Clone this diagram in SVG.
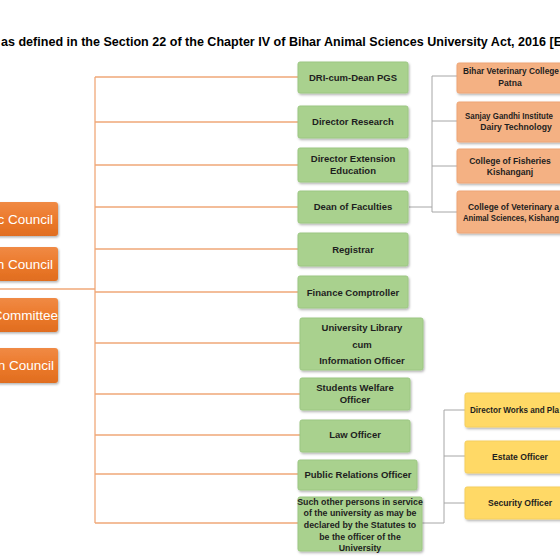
<svg xmlns="http://www.w3.org/2000/svg" width="560" height="560" viewBox="0 0 560 560">
<defs>
<filter id="sh" x="-10%" y="-10%" width="130%" height="140%">
<feDropShadow dx="1" dy="1.5" stdDeviation="1" flood-color="#000" flood-opacity="0.3"/>
</filter>
<linearGradient id="og" x1="0" y1="0" x2="0" y2="1">
<stop offset="0" stop-color="#f08a45"/>
<stop offset="0.5" stop-color="#ec7a2c"/>
<stop offset="1" stop-color="#e06d1f"/>
</linearGradient>
</defs>
<style>
text{font-family:"Liberation Sans",Arial,sans-serif;font-weight:bold;}
.title{font-size:13px;fill:#000;}
.lo{fill:url(#og);filter:url(#sh);}
.lt{font-size:13.5px;fill:#fff;font-weight:normal;text-anchor:end;}
.g{fill:#a9d18e;stroke:#9cc782;stroke-width:1;filter:url(#sh);}
.gt{font-size:9.5px;fill:#1e1e1e;text-anchor:middle;}
.o{fill:#f4b183;stroke:#eea577;stroke-width:1;filter:url(#sh);}
.ot{font-size:8.6px;fill:#1e1e1e;}
.y{fill:#ffd966;stroke:#f5cf5e;stroke-width:1;filter:url(#sh);}
.yt{font-size:8.6px;fill:#1e1e1e;}
.oc{stroke:#f0a878;stroke-width:1.3;fill:none;}
.gc{stroke:#a6a6a6;stroke-width:1;fill:none;}
</style>
<rect width="560" height="560" fill="#fff"/>
<text class="title" x="1" y="46" textLength="561" lengthAdjust="spacingAndGlyphs">as defined in the Section 22 of the Chapter IV of Bihar Animal Sciences University Act, 2016 [E</text>

<g id="connectors">
<path class="oc" d="M0 289 H95"/>
<path class="oc" d="M95 77 V523"/>
<path class="oc" d="M95 77 H298 M95 122 H298 M95 165 H298 M95 207 H298 M95 249 H298 M95 292 H298 M95 343 H300 M95 394 H300 M95 435 H300 M95 474 H298 M95 523 H298"/>
<path class="gc" d="M409 207 H432 M432 76 V212 M432 76 H457 M432 121 H457 M432 166 H457 M432 212 H457"/>
<path class="gc" d="M422 523 H444 M444 410 V523 M444 410 H465 M444 456 H465 M444 503 H465"/>
</g>

<g id="left-1"><rect class="lo" x="-10" y="202" width="68" height="34" rx="3"/><text class="lt" x="53" y="224">ic Council</text></g>
<g id="left-2"><rect class="lo" x="-10" y="247" width="68" height="34" rx="3"/><text class="lt" x="53" y="269">h Council</text></g>
<g id="left-3"><rect class="lo" x="-10" y="298" width="68" height="34" rx="3"/><text class="lt" x="58" y="320">Committee</text></g>
<g id="left-4"><rect class="lo" x="-10" y="348" width="68" height="35" rx="3"/><text class="lt" x="54" y="370">on Council</text></g>

<g id="dri"><rect class="g" x="298" y="62" width="110" height="31" rx="2"/><text class="gt" x="353" y="81">DRI-cum-Dean PGS</text></g>
<g id="dir-research"><rect class="g" x="298" y="106" width="110" height="32" rx="2"/><text class="gt" x="353" y="125">Director Research</text></g>
<g id="dir-extension"><rect class="g" x="298" y="148" width="110" height="34" rx="2"/><text class="gt" x="353" y="162">Director Extension</text><text class="gt" x="353" y="174">Education</text></g>
<g id="dean-faculties"><rect class="g" x="298" y="191" width="110" height="32" rx="2"/><text class="gt" x="353" y="210">Dean of Faculties</text></g>
<g id="registrar"><rect class="g" x="298" y="233" width="110" height="33" rx="2"/><text class="gt" x="353" y="253">Registrar</text></g>
<g id="finance"><rect class="g" x="298" y="276" width="110" height="32" rx="2"/><text class="gt" x="353" y="296">Finance Comptroller</text></g>
<g id="library"><rect class="g" x="300" y="318" width="123" height="52" rx="2"/><text class="gt" x="362" y="331">University Library</text><text class="gt" x="362" y="348">cum</text><text class="gt" x="362" y="364">Information Officer</text></g>
<g id="students"><rect class="g" x="300" y="378" width="110" height="32" rx="2"/><text class="gt" x="355" y="391">Students Welfare</text><text class="gt" x="355" y="403">Officer</text></g>
<g id="law"><rect class="g" x="300" y="420" width="110" height="32" rx="2"/><text class="gt" x="355" y="438">Law Officer</text></g>
<g id="pro"><rect class="g" x="298" y="460" width="119" height="30" rx="2"/><text class="gt" x="358" y="478">Public Relations Officer</text></g>
<g id="other"><rect class="g" x="298" y="497" width="124" height="54" rx="2"/>
<text class="gt" x="360" y="505" style="font-size:8.8px">Such other persons in service</text>
<text class="gt" x="360" y="516" style="font-size:8.8px">of the university as may be</text>
<text class="gt" x="360" y="528" style="font-size:8.8px">declared by the Statutes to</text>
<text class="gt" x="360" y="540" style="font-size:8.8px">be the officer of the</text>
<text class="gt" x="360" y="551" style="font-size:8.8px">University</text></g>

<g id="bvc"><rect class="o" x="457" y="63" width="115" height="30" rx="2"/><text class="ot" x="463" y="74" textLength="96" lengthAdjust="spacingAndGlyphs">Bihar Veterinary College</text><text class="ot" x="510" y="86" text-anchor="middle">Patna</text></g>
<g id="sgidt"><rect class="o" x="457" y="102" width="115" height="40" rx="2"/><text class="ot" x="465" y="119" textLength="88" lengthAdjust="spacingAndGlyphs">Sanjay Gandhi Institute</text><text class="ot" x="516" y="130" text-anchor="middle">Dairy Technology</text></g>
<g id="cof"><rect class="o" x="457" y="149" width="115" height="34" rx="2"/><text class="ot" x="510" y="164" text-anchor="middle">College of Fisheries</text><text class="ot" x="510" y="175" text-anchor="middle">Kishanganj</text></g>
<g id="cvas"><rect class="o" x="457" y="191" width="115" height="42" rx="2"/><text class="ot" x="468" y="210" textLength="91" lengthAdjust="spacingAndGlyphs">College of Veterinary a</text><text class="ot" x="463" y="221" textLength="96" lengthAdjust="spacingAndGlyphs">Animal Sciences, Kishang</text></g>

<g id="dwp"><rect class="y" x="465" y="393" width="110" height="34" rx="2"/><text class="yt" x="470" y="413" textLength="89" lengthAdjust="spacingAndGlyphs">Director Works and Pla</text></g>
<g id="estate"><rect class="y" x="465" y="441" width="110" height="32" rx="2"/><text class="yt" x="520" y="460" text-anchor="middle">Estate Officer</text></g>
<g id="security"><rect class="y" x="465" y="487" width="110" height="32" rx="2"/><text class="yt" x="520" y="506" text-anchor="middle">Security Officer</text></g>
</svg>
